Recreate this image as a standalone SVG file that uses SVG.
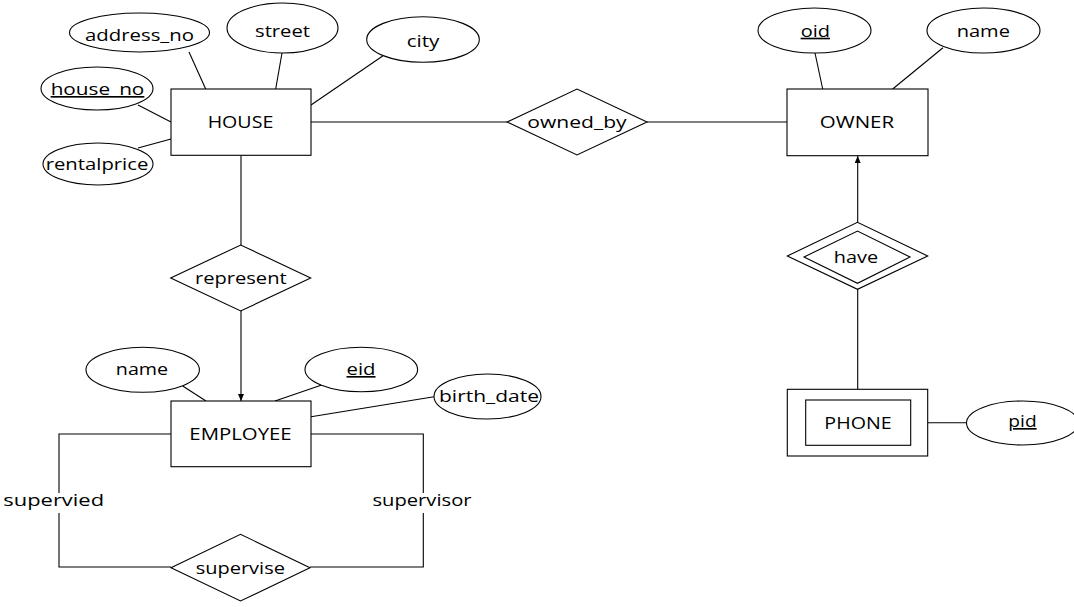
<svg xmlns="http://www.w3.org/2000/svg" width="1074" height="607" viewBox="0 0 1074 607">
<defs>
<style>
.s{fill:#fff;stroke:#000;stroke-width:1.1}
.c{fill:none;stroke:#000;stroke-width:1.1}
text{font-family:"Open Sans","DejaVu Sans",sans-serif;font-size:16.5px;fill:#000;text-anchor:middle}
.u{text-decoration:underline}
</style>
<marker id="arr" markerWidth="8" markerHeight="6" refX="7" refY="3" orient="auto" markerUnits="userSpaceOnUse">
<path d="M0,0 L7,3 L0,6 Z" fill="#000"/>
</marker>
</defs>
<rect width="1074" height="607" fill="#fff"/>
<g id="connectors">
<line class="c" x1="189" y1="52" x2="205.7" y2="89"/>
<line class="c" x1="282" y1="53" x2="275.7" y2="89"/>
<line class="c" x1="382.7" y1="56" x2="311" y2="105"/>
<line class="c" x1="138" y1="105" x2="171" y2="122"/>
<line class="c" x1="138" y1="148" x2="171" y2="139"/>
<line class="c" x1="311" y1="122" x2="507" y2="122"/>
<line class="c" x1="647" y1="122" x2="787" y2="122"/>
<line class="c" x1="815" y1="53" x2="822.7" y2="89"/>
<line class="c" x1="943" y1="47.7" x2="892.7" y2="89"/>
<line class="c" x1="857.7" y1="222.3" x2="857.7" y2="156" marker-end="url(#arr)"/>
<line class="c" x1="857.7" y1="289.3" x2="857.7" y2="389.3"/>
<line class="c" x1="927.7" y1="422.7" x2="966.7" y2="422.7"/>
<line class="c" x1="241" y1="155.3" x2="241" y2="245"/>
<line class="c" x1="241" y1="311" x2="241" y2="401" marker-end="url(#arr)"/>
<line class="c" x1="182.7" y1="386" x2="206" y2="401"/>
<line class="c" x1="321.7" y1="385" x2="275" y2="401"/>
<line class="c" x1="311" y1="416.7" x2="434" y2="396.7"/>
<polyline class="c" points="171,434 59,434 59,493"/>
<polyline class="c" points="59,513 59,567 171,567"/>
<polyline class="c" points="311,434 423.3,434 423.3,493"/>
<polyline class="c" points="423.3,513 423.3,567 310,567"/>
</g>
<g id="address_no"><ellipse class="s" cx="139.5" cy="32.5" rx="70" ry="19.5"/><text x="139.5" y="41" textLength="109" lengthAdjust="spacingAndGlyphs">address_no</text></g>
<g id="street"><ellipse class="s" cx="282.5" cy="28" rx="55.5" ry="25"/><text x="282.5" y="36.7" textLength="55" lengthAdjust="spacingAndGlyphs">street</text></g>
<g id="city"><ellipse class="s" cx="423" cy="39.5" rx="56.3" ry="22.8"/><text x="423" y="46.7" textLength="32.7" lengthAdjust="spacingAndGlyphs">city</text></g>
<g id="house_no"><ellipse class="s" cx="97" cy="88.5" rx="56" ry="21.5"/><text class="u" x="97.5" y="95" textLength="93.7" lengthAdjust="spacingAndGlyphs">house_no</text></g>
<g id="rentalprice"><ellipse class="s" cx="98" cy="164" rx="55" ry="21"/><text x="97" y="170" textLength="102.7" lengthAdjust="spacingAndGlyphs">rentalprice</text></g>
<g id="house"><rect class="s" x="171" y="89" width="140" height="66.3"/><text x="240.5" y="128.3" textLength="65.7" lengthAdjust="spacingAndGlyphs">HOUSE</text></g>
<g id="owned_by"><polygon class="s" points="507,122 577,89 647,122 577,155"/><text x="577" y="128.3" textLength="99.3" lengthAdjust="spacingAndGlyphs">owned_by</text></g>
<g id="owner"><rect class="s" x="787" y="89" width="141" height="66.7"/><text x="857" y="128.3" textLength="74.3" lengthAdjust="spacingAndGlyphs">OWNER</text></g>
<g id="oid"><ellipse class="s" cx="814.5" cy="30.5" rx="56.5" ry="22.5"/><text class="u" x="815.3" y="36.7" textLength="29.3" lengthAdjust="spacingAndGlyphs">oid</text></g>
<g id="owner_name"><ellipse class="s" cx="983.5" cy="30.5" rx="56.5" ry="22.5"/><text x="983.3" y="36.7" textLength="53.3" lengthAdjust="spacingAndGlyphs">name</text></g>
<g id="have"><polygon class="s" points="787.3,256 857.5,222.3 927.7,256 857.5,289.3"/><polygon class="s" points="804,257 857.5,231 910,257 857.5,283.3"/><text x="856" y="262.7" textLength="44.3" lengthAdjust="spacingAndGlyphs">have</text></g>
<g id="phone"><rect class="s" x="787.3" y="389.3" width="140.4" height="66.7"/><rect class="s" x="805.7" y="400" width="105" height="45.3"/><text x="858" y="429.3" textLength="67.3" lengthAdjust="spacingAndGlyphs">PHONE</text></g>
<g id="pid"><ellipse class="s" cx="1022.5" cy="423" rx="56" ry="22"/><text class="u" x="1022.5" y="427" textLength="28.3" lengthAdjust="spacingAndGlyphs">pid</text></g>
<g id="represent"><polygon class="s" points="170.7,278 240.7,245 310.7,278 240.7,311"/><text x="240.8" y="284" textLength="91.7" lengthAdjust="spacingAndGlyphs">represent</text></g>
<g id="employee_name"><ellipse class="s" cx="142.7" cy="369.8" rx="56.7" ry="22.5"/><text x="142" y="375" textLength="52.3" lengthAdjust="spacingAndGlyphs">name</text></g>
<g id="eid"><ellipse class="s" cx="361.3" cy="369.5" rx="56.3" ry="22.2"/><text class="u" x="361" y="375" textLength="29" lengthAdjust="spacingAndGlyphs">eid</text></g>
<g id="birth_date"><ellipse class="s" cx="487.5" cy="396.5" rx="53.5" ry="22.5"/><text x="489" y="401.7" textLength="100" lengthAdjust="spacingAndGlyphs">birth_date</text></g>
<g id="employee"><rect class="s" x="171" y="401" width="140" height="65.7"/><text x="240.5" y="440" textLength="102.3" lengthAdjust="spacingAndGlyphs">EMPLOYEE</text></g>
<g id="supervise"><polygon class="s" points="171,567.7 240.5,534.3 310,567.7 240.5,601"/><text x="240.3" y="574" textLength="89.3" lengthAdjust="spacingAndGlyphs">supervise</text></g>
<g id="labels"><text x="53.7" y="506" textLength="100.7" lengthAdjust="spacingAndGlyphs">supervied</text><text x="422" y="506" textLength="99" lengthAdjust="spacingAndGlyphs">supervisor</text></g>
</svg>
